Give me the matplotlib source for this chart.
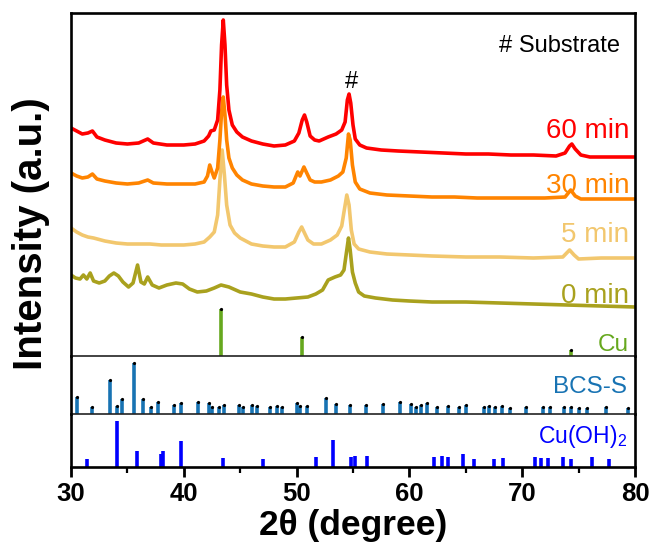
import matplotlib
matplotlib.use('Agg')
import matplotlib.pyplot as plt
from matplotlib import font_manager
from matplotlib.ticker import MultipleLocator

plt.rcParams['font.family'] = ['Liberation Sans', 'DejaVu Sans']
plt.rcParams['mathtext.fontset'] = 'custom'
plt.rcParams['mathtext.rm'] = 'Liberation Sans'
plt.rcParams['mathtext.it'] = 'Liberation Sans:italic'

# XRD patterns (intensity in arbitrary units)
x60 = [30.0, 30.5, 31.0, 31.5, 31.9, 32.3, 33.0, 34.0, 35.0, 36.0, 36.8, 37.3, 38.5, 40.0,
       41.0, 41.8, 42.2, 42.4, 42.7, 43.0, 43.2, 43.35, 43.5, 43.65, 43.8, 44.0, 44.3, 44.7,
       45.2, 46.0, 47.0, 48.0, 49.0, 49.8, 50.2, 50.5, 50.7, 50.9, 51.2, 51.6, 52.0, 52.8,
       53.5, 54.0, 54.3, 54.5, 54.65, 54.8, 55.0, 55.2, 55.6, 56.2, 57.5, 59.0, 61.0, 63.0,
       65.0, 67.0, 69.0, 71.0, 73.0, 73.8, 74.2, 74.4, 74.7, 75.2, 76.0, 78.0, 80.0]
y60 = [228, 225, 222, 223, 225, 219, 216, 213, 212, 213, 217, 213, 211, 211,
       212, 215, 220, 225, 226, 236, 266, 311, 336, 311, 271, 246, 231, 224,
       219, 215, 212, 210, 211, 215, 223, 236, 241, 234, 220, 216, 215, 219,
       222, 226, 234, 256, 262, 253, 231, 217, 211, 208, 206, 205, 204, 203,
       202, 202, 201, 201, 200, 203, 210, 212, 207, 201, 199, 199, 199]

x30 = [30.0, 30.5, 31.0, 31.5, 31.9, 32.3, 33.0, 34.0, 35.0, 36.0, 36.8, 37.3, 38.5, 40.0,
       41.0, 41.8, 42.1, 42.3, 42.5, 42.7, 43.0, 43.2, 43.35, 43.5, 43.65, 43.8, 44.0, 44.3,
       44.7, 45.2, 46.0, 47.0, 48.0, 49.0, 49.7, 50.1, 50.3, 50.65, 50.9, 51.2, 51.6, 52.2,
       53.0, 53.7, 54.1, 54.4, 54.6, 54.75, 54.95, 55.2, 55.6, 56.5, 58.0, 60.0, 62.0, 64.0,
       66.0, 68.0, 70.0, 72.0, 73.8, 74.3, 74.7, 75.2, 77.0, 80.0]
y30 = [183, 180, 178, 179, 182, 177, 175, 173, 172, 173, 176, 173, 172, 172,
       172, 174, 180, 191, 184, 178, 188, 216, 244, 259, 241, 216, 198, 188,
       181, 176, 172, 170, 169, 169, 173, 184, 180, 189, 183, 176, 174, 174,
       176, 180, 184, 198, 222, 216, 191, 174, 167, 163, 161, 160, 159, 159,
       158, 158, 158, 158, 159, 166, 160, 157, 157, 157]

x5 = [30.0, 30.5, 31.0, 31.5, 32.0, 33.0, 34.0, 35.0, 36.0, 37.0, 38.0, 39.0, 40.0, 41.0,
      41.8, 42.3, 42.7, 43.0, 43.2, 43.4, 43.6, 43.8, 44.1, 44.5, 45.0, 46.0, 47.0, 48.0,
      49.0, 49.8, 50.2, 50.45, 50.7, 51.0, 51.5, 52.2, 53.0, 53.6, 54.0, 54.2, 54.45, 54.65,
      54.85, 55.1, 55.5, 56.5, 58.0, 60.0, 62.0, 65.0, 68.0, 71.0, 73.6, 74.2, 74.6, 75.0,
      77.0, 80.0]
y5 = [128, 124, 121, 119, 118, 115, 113, 112, 112, 112, 111, 111, 111, 112,
      114, 119, 124, 141, 176, 206, 181, 151, 131, 123, 118, 112, 110, 109,
      109, 114, 124, 129, 123, 116, 112, 112, 116, 121, 130, 144, 161, 151,
      126, 112, 107, 104, 102, 101, 100, 99, 99, 98, 99, 106, 101, 97,
      98, 98]

x0 = [30.0, 30.4, 30.8, 31.1, 31.4, 31.7, 32.0, 32.5, 33.0, 33.4, 33.8, 34.2, 34.6, 35.1,
      35.5, 35.9, 36.2, 36.5, 36.8, 37.2, 37.8, 38.5, 39.3, 39.9, 40.5, 41.2, 42.0, 42.7,
      43.3, 44.0, 45.0, 46.0, 47.0, 48.0, 49.0, 50.0, 51.0, 51.7, 52.3, 52.8, 53.4, 53.9,
      54.2, 54.45, 54.6, 54.75, 54.95, 55.2, 55.5, 56.0, 57.0, 58.5, 60.0, 62.0, 65.0, 68.0,
      71.0, 74.0, 77.0, 80.0]
y0 = [81, 78, 77, 81, 77, 83, 75, 73, 75, 80, 83, 80, 74, 69,
      73, 91, 74, 72, 79, 71, 68, 71, 73, 72, 67, 64, 65, 68,
      71, 69, 64, 62, 59, 57, 57, 58, 59, 62, 66, 76, 79, 81,
      86, 106, 118, 106, 84, 73, 64, 60, 58, 56, 55, 54, 54, 53,
      52, 51, 50, 49]

# reference sticks
cu_pos = [43.3, 50.45, 74.3]
cu_int = [47, 19, 6]

bcs_pos = [30.56, 31.83, 33.46, 34.10, 34.49, 35.58, 36.35, 37.12, 37.68, 39.16, 39.75,
           41.23, 42.23, 42.53, 43.12, 43.54, 44.92, 45.28, 46.08, 46.46, 47.64, 48.29,
           48.70, 50.00, 50.33, 50.95, 52.58, 53.52, 54.77, 56.15, 57.69, 59.20, 60.14,
           60.59, 61.06, 61.56, 62.48, 63.42, 64.42, 65.04, 66.59, 67.03, 67.62, 68.18,
           68.89, 70.34, 71.84, 72.49, 73.71, 74.33, 75.06, 75.77, 77.43, 79.38]
bcs_int = [17, 7, 34, 8, 15, 51, 15, 7, 12, 9, 11,
           12, 11, 7, 7, 9, 9, 7, 9, 8, 7, 8,
           7, 11, 8, 8, 16, 10, 9, 9, 10, 12, 10,
           7, 9, 11, 7, 8, 7, 9, 7, 8, 7, 8,
           6, 7, 7, 7, 7, 7, 6, 6, 7, 6]

cuoh_pos = [31.45, 34.05, 35.88, 37.95, 38.18, 39.78, 43.50, 47.05, 51.69, 53.20, 54.80,
            55.20, 56.21, 62.18, 62.92, 63.42, 64.78, 65.70, 67.50, 68.33, 71.10, 71.69,
            72.31, 73.65, 74.33, 76.16, 77.70]
cuoh_int = [8, 46, 16, 13, 16, 26, 9, 8, 10, 27, 10,
            11, 11, 10, 11, 10, 13, 8, 8, 9, 10, 9,
            9, 10, 8, 10, 8]

c60, c30, c5, c0 = '#FF0000', '#FF8400', '#F2C76E', '#A9A11E'
c_cu, c_bcs, c_cuoh = '#66A81E', '#1873B3', '#0000FF'

fig = plt.figure(figsize=(6.55, 5.54), dpi=100)
L, R = 71 / 655, 635 / 655
def fy(p):
    return 1 - p / 554

ax1 = fig.add_axes([L, fy(356), R - L, fy(13) - fy(356)])
ax2 = fig.add_axes([L, fy(414), R - L, fy(356) - fy(414)])
ax3 = fig.add_axes([L, fy(467), R - L, fy(414) - fy(467)])

ax1.plot(x0, y0, color=c0, lw=2.6)
ax1.plot(x5, y5, color=c5, lw=2.6)
ax1.plot(x30, y30, color=c30, lw=2.6)
ax1.plot(x60, y60, color=c60, lw=2.6)
ax1.vlines(cu_pos, 0, cu_int, color=c_cu, lw=2.6)
ax1.plot(cu_pos, cu_int, 'o', color='k', ms=1.3)
ax1.set_ylim(0, 343)

ax2.vlines(bcs_pos, 0, bcs_int, color=c_bcs, lw=2.6)
ax2.plot(bcs_pos, bcs_int, 'o', color='k', ms=1.3)
ax2.set_ylim(0, 58)

ax3.vlines(cuoh_pos, 0, cuoh_int, color=c_cuoh, lw=2.6)
ax3.set_ylim(0, 53)

for ax in (ax1, ax2, ax3):
    ax.set_xlim(30, 80)
    ax.patch.set_alpha(0)
    ax.tick_params(left=False, labelleft=False, bottom=False, labelbottom=False)
    for s in ax.spines.values():
        s.set_linewidth(1.9)
        s.set_color('k')
        s.set_zorder(5)

ax1.spines['bottom'].set_linewidth(1.2)
ax1.spines['bottom'].set_color('#222222')
ax2.spines['top'].set_visible(False)
ax2.spines['bottom'].set_linewidth(1.2)
ax2.spines['bottom'].set_color('#222222')
ax3.spines['top'].set_visible(False)

ax3.xaxis.set_major_locator(MultipleLocator(10))
ax3.xaxis.set_minor_locator(MultipleLocator(5))
ax3.tick_params(axis='x', which='major', bottom=True, labelbottom=True, direction='out',
                length=7, width=2, labelsize=18.5, pad=4)
ax3.tick_params(axis='x', which='minor', bottom=True, direction='out', length=4, width=1.6)
for t in ax3.get_xticklabels():
    t.set_fontweight('bold')

# text
ax1.text(79.5, 217.7, '60 min', color=c60, fontsize=20, ha='right', va='baseline')
ax1.text(79.5, 163, '30 min', color=c30, fontsize=20, ha='right', va='baseline')
ax1.text(79.5, 114, '5 min', color=c5, fontsize=20, ha='right', va='baseline')
ax1.text(79.5, 53, '0 min', color=c0, fontsize=20, ha='right', va='baseline')
ax1.text(78.7, 304, '# Substrate', color='k', fontsize=17, ha='right', va='baseline')
ax1.text(54.88, 268, '#', color='k', fontsize=17, ha='center', va='baseline')
ax1.text(79.45, 5, 'Cu', color=c_cu, fontsize=17.5, ha='right', va='baseline')
ax2.text(79.3, 20.7, 'BCS-S', color=c_bcs, fontsize=17.5, ha='right', va='baseline')
ax3.text(79.3, 24, 'Cu(OH)$_2$', color=c_cuoh, fontsize=16.5, ha='right', va='baseline')

names = {f.name for f in font_manager.fontManager.ttflist}
if 'Liberation Sans Narrow' in names:
    fig.text(0.5 * (L + R), fy(526), '2θ (degree)', fontsize=31, fontweight='bold',
             family='Liberation Sans Narrow', ha='center', va='center')
else:
    fig.text(0.5 * (L + R), fy(526), '2θ (degree)', fontsize=25.5, fontweight='bold',
             ha='center', va='center')
fig.text(31 / 655, fy(234), 'Intensity (a.u.)', fontsize=29, fontweight='bold',
         rotation=90, ha='center', va='center')

plt.savefig('out.png', dpi=100)
